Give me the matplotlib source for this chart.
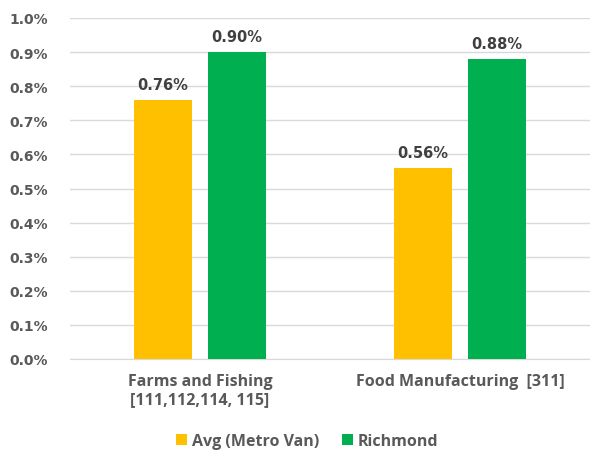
import matplotlib
matplotlib.use("Agg")
import matplotlib.pyplot as plt
import numpy as np
from matplotlib.ticker import PercentFormatter, MultipleLocator

categories = ["Farms and Fishing\n[111,112,114, 115]", "Food Manufacturing  [311]"]
series_names = ["Avg (Metro Van)", "Richmond"]
metro_van = [0.76, 0.56]
richmond = [0.90, 0.88]
colors = ["#FFC000", "#00B050"]

plt.rcParams["font.family"] = ["Open Sans", "DejaVu Sans"]
text_color = "#595959"
num_font = "DejaVu Sans"

fig = plt.figure(figsize=(5.9, 4.52), dpi=100)
ax = fig.add_axes([70 / 590, 1 - 360 / 452, 520 / 590, 341 / 452])

x = np.arange(len(categories))
width = 0.223
offset = 0.142
for vals, name, col, sign in [(metro_van, series_names[0], colors[0], -1),
                              (richmond, series_names[1], colors[1], 1)]:
    bars = ax.bar(x + sign * offset, vals, width, color=col, label=name, zorder=3)
    for b, v in zip(bars, vals):
        ax.annotate(f"{v:.2f}%", (b.get_x() + b.get_width() / 2, v),
                    xytext=(0, 6), textcoords="offset points", ha="center", va="bottom",
                    fontsize=10.5, fontweight="bold", color="#404040", family=num_font)

ax.set_xlim(-0.5, 1.5)
ax.set_ylim(0, 1.0)
ax.yaxis.set_major_locator(MultipleLocator(0.1))
ax.yaxis.set_major_formatter(PercentFormatter(decimals=1))
ax.grid(axis="y", color="#d9d9d9", linewidth=1, zorder=0)
for s in ["top", "right", "left"]:
    ax.spines[s].set_visible(False)
ax.spines["bottom"].set_color("#d9d9d9")
ax.tick_params(axis="both", length=0, colors=text_color)
ax.tick_params(axis="y", pad=16, labelsize=10)
ax.tick_params(axis="x", pad=10, labelsize=11.5)
ax.set_xticks(x)
ax.set_xticklabels(categories, fontweight="bold", color=text_color, linespacing=1.2)
for lbl in ax.get_yticklabels():
    lbl.set_fontweight("bold")
    lbl.set_family(num_font)

leg = fig.legend(loc="center", bbox_to_anchor=(307 / 590, 1 - 442 / 452), ncol=2,
                 frameon=False, handlelength=0.7, handleheight=0.7, handletextpad=0.3,
                 columnspacing=1.4, prop={"weight": "bold", "size": 11.5})
for t in leg.get_texts():
    t.set_color(text_color)

fig.savefig("out.png", dpi=100)
